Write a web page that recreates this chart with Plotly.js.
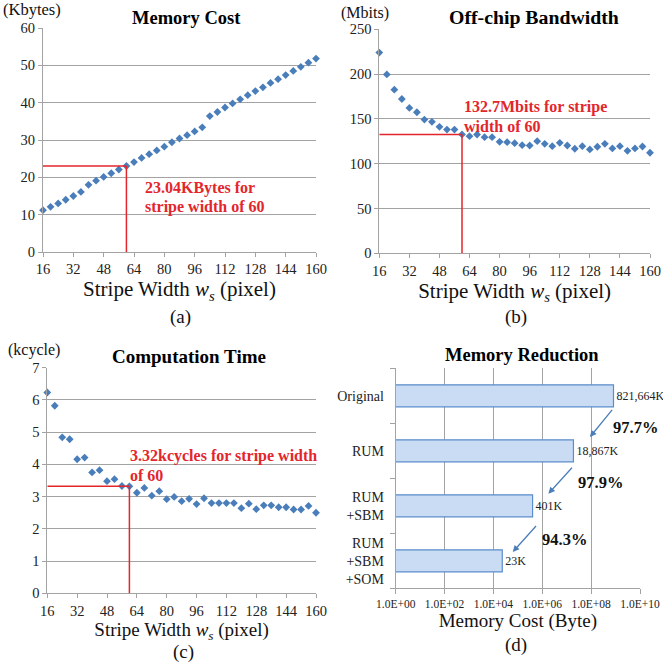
<!DOCTYPE html>
<html>
<head>
<meta charset="utf-8">
<script src="https://cdn.plot.ly/plotly-3.0.1.min.js"></script>
<style>
  html, body { margin: 0; padding: 0; background: #ffffff; }
  #chart { width: 663px; height: 666px; }
</style>
</head>
<body>
<div id="chart"></div>
<script>
// ---------------- data ----------------
const stripeWidths = [16,20,24,28,32,36,40,44,48,52,56,60,64,68,72,76,80,84,88,92,96,100,104,108,112,116,120,124,128,132,136,140,144,148,152,156,160];
const memoryCostKB = [11.2,12.1,13.0,14.0,15.0,16.1,18.0,19.1,20.1,21.1,22.1,23.04,24.1,25.2,26.2,27.2,28.2,29.4,30.4,31.3,32.3,33.4,36.4,37.5,38.7,39.8,40.9,42.0,43.1,44.1,45.3,46.3,47.4,48.5,49.6,50.7,51.8];
const bandwidthMbits = [224,199.6,182.6,172.2,162.2,157.4,149.2,146.7,141.1,138.1,138.1,132.7,130.7,132.6,129.6,129.6,124.4,124,122.9,120.7,120.3,125.1,122.2,119.6,123.3,120.3,116.7,119.6,115.9,118.9,122.2,117,119.6,114.4,117,119.2,112.2];
const computeKcycles = [6.23,5.82,4.84,4.78,4.16,4.21,3.75,3.82,3.48,3.54,3.33,3.32,3.12,3.27,3.03,3.17,2.92,2.99,2.86,2.93,2.77,2.95,2.80,2.80,2.80,2.80,2.64,2.78,2.61,2.73,2.73,2.67,2.67,2.60,2.60,2.71,2.50];
const xTickVals = [16,32,48,64,80,96,112,128,144,160];

const selectedWidth = 60;
const selectedValues = [23.04, 132.7, 3.32];

const methods = ['Original','RUM','RUM<br>+SBM','RUM<br>+SBM<br>+SOM'];
const methodBytes = [821664000, 18867000, 401000, 23000];
const methodLabels = ['821,664K','18,867K','401K','23K'];
const reductionLabels = ['97.7%','97.9%','94.3%'];
const logTickVals = [1,1e2,1e4,1e6,1e8,1e10];
const logTickText = ['1.0E+00','1.0E+02','1.0E+04','1.0E+06','1.0E+08','1.0E+10'];

// ---------------- helpers ----------------
const W = 663, H = 666;
const px = v => v / W;
const py = v => 1 - v / H;
const SERIF = 'Liberation Serif, Times New Roman, serif';
const BLUE = '#4a7ebb';
const RED = '#e3262c';
const GRID = '#a3a3a3';

function scatterTrace(y, xa, ya) {
  return {
    type: 'scatter', mode: 'markers', x: stripeWidths, y: y,
    xaxis: xa, yaxis: ya, cliponaxis: false, showlegend: false,
    marker: { symbol: 'diamond', size: 6, color: BLUE }
  };
}

const data = [
  scatterTrace(memoryCostKB, 'x', 'y'),
  scatterTrace(bandwidthMbits, 'x2', 'y2'),
  scatterTrace(computeKcycles, 'x3', 'y3'),
  {
    type: 'bar', orientation: 'h', x: methodBytes, y: methods,
    xaxis: 'x4', yaxis: 'y4', width: 0.4, showlegend: false,
    marker: { color: '#c9dcf3', line: { color: '#5b8ccc', width: 1.2 } },
    text: methodLabels, textposition: 'outside', cliponaxis: false,
    constraintext: 'none',
    textfont: { family: SERIF, size: 12, color: '#222' }
  }
];

function linX(domain, title, tsize) {
  return {
    domain: domain, range: [16, 160], tickvals: xTickVals,
    showgrid: false, zeroline: false, showline: true, linecolor: GRID, linewidth: 1,
    ticks: 'outside', ticklen: 4, tickcolor: GRID,
    tickfont: { family: SERIF, size: 14.5, color: '#222' },
    title: { text: title, font: { family: SERIF, size: tsize, color: '#111' }, standoff: 4 }
  };
}
function linY(domain, range, dtick, anchor) {
  return {
    domain: domain, range: range, dtick: dtick, anchor: anchor,
    showgrid: true, gridcolor: GRID, gridwidth: 1, zeroline: false,
    showline: true, linecolor: GRID, linewidth: 1,
    ticks: 'outside', ticklen: 4, tickcolor: GRID,
    tickfont: { family: SERIF, size: 14.5, color: '#222' }
  };
}

const stripeTitle = 'Stripe Width <i>w<sub>s</sub></i> (pixel)';

const layout = {
  width: W, height: H,
  margin: { l: 0, r: 0, t: 0, b: 0 },
  paper_bgcolor: '#ffffff', plot_bgcolor: '#ffffff',
  showlegend: false,
  font: { family: SERIF, color: '#111' },
  xaxis: Object.assign(linX([px(43), px(316)], stripeTitle, 21), { anchor: 'y' }),
  yaxis: linY([py(252), py(28)], [0, 60], 10, 'x'),
  xaxis2: Object.assign(linX([px(379.3), px(650)], stripeTitle, 21), { anchor: 'y2' }),
  yaxis2: linY([py(253.3), py(29.3)], [0, 250], 50, 'x2'),
  xaxis3: Object.assign(linX([px(47.3), px(316)], stripeTitle, 19), { anchor: 'y3' }),
  yaxis3: linY([py(593.3), py(367.7)], [0, 7], 1, 'x3'),
  xaxis4: {
    domain: [px(395.7), px(640)], anchor: 'y4', type: 'log', range: [0, 10],
    tickvals: logTickVals, ticktext: logTickText,
    showgrid: true, gridcolor: GRID, zeroline: false,
    showline: true, linecolor: GRID, ticks: 'outside', ticklen: 5, tickcolor: GRID,
    tickfont: { family: SERIF, size: 11.5, color: '#222' },
    title: { text: 'Memory Cost (Byte)', font: { family: SERIF, size: 19, color: '#111' }, standoff: 4 }
  },
  yaxis4: {
    domain: [py(588.3), py(368.3)], anchor: 'x4', type: 'category',
    categoryorder: 'array', categoryarray: methods.slice().reverse(),
    range: [-0.5, 3.5], tickson: 'boundaries',
    showgrid: false, zeroline: false, showline: true, linecolor: GRID,
    ticks: 'outside', ticklen: 5, tickcolor: GRID, ticklabelstandoff: 8,
    tickfont: { family: SERIF, size: 14, color: '#222' }
  },
  shapes: [],
  annotations: []
};

// red highlight lines for stripe width 60
const axPairs = [['x','y'],['x2','y2'],['x3','y3']];
axPairs.forEach(([xa, ya], i) => {
  layout.shapes.push({ type: 'line', xref: xa, yref: ya, x0: stripeWidths[0], x1: selectedWidth,
    y0: selectedValues[i], y1: selectedValues[i], line: { color: RED, width: 1.5 } });
  layout.shapes.push({ type: 'line', xref: xa, yref: ya, x0: selectedWidth, x1: selectedWidth,
    y0: 0, y1: selectedValues[i], line: { color: RED, width: 1.5 } });
});

function txt(text, x, y, opts) {
  return Object.assign({ text: text, xref: 'paper', yref: 'paper', x: px(x), y: py(y),
    xanchor: 'left', yanchor: 'middle', showarrow: false,
    font: { family: SERIF, size: 16, color: '#111' } }, opts || {});
}
const A = layout.annotations;
// unit labels
A.push(txt('(Kbytes)', 1, 10, { font: { family: SERIF, size: 16.5, color: '#111' } }));
A.push(txt('(Mbits)', 339, 13));
A.push(txt('(kcycle)', 6, 350));
// titles
const titleFont = { family: SERIF, size: 18.5, color: '#000' };
A.push(txt('<b>Memory Cost</b>', 186, 18, { xanchor: 'center', font: titleFont }));
A.push(txt('<b>Off-chip Bandwidth</b>', 534, 17, { xanchor: 'center', font: { family: SERIF, size: 19.8, color: '#000' } }));
A.push(txt('<b>Computation Time</b>', 189, 356, { xanchor: 'center', font: { family: SERIF, size: 19, color: '#000' } }));
A.push(txt('<b>Memory Reduction</b>', 521.5, 355, { xanchor: 'center', font: titleFont }));
// panel labels
const panelFont = { family: SERIF, size: 19, color: '#111' };
A.push(txt('(a)', 181, 317, { xanchor: 'center', font: panelFont }));
A.push(txt('(b)', 516, 317, { xanchor: 'center', font: panelFont }));
A.push(txt('(c)', 183, 652, { xanchor: 'center', font: panelFont }));
A.push(txt('(d)', 516, 645, { xanchor: 'center', font: panelFont }));
// red notes
const redFont = { family: SERIF, size: 16, color: RED };
A.push(txt('<b>23.04KBytes for</b>', 143, 188, { font: redFont }));
A.push(txt('<b>stripe width of 60</b>', 143, 207, { font: redFont }));
A.push(txt('<b>132.7Mbits for stripe</b>', 461.5, 107.3, { font: redFont }));
A.push(txt('<b>width of 60</b>', 461.5, 126, { font: redFont }));
A.push(txt('<b>3.32kcycles for stripe width</b>', 127.5, 456.3, { font: redFont }));
A.push(txt('<b>of 60</b>', 127.5, 475, { font: redFont }));

// arrows and reduction percentages in panel (d)  (x in log10 units, y in category index)
const arrowSpecs = [
  { tail: [8.91, 2.77], head: [7.95, 2.25] },
  { tail: [7.27, 1.72], head: [6.25, 1.22] },
  { tail: [5.80, 0.66], head: [4.79, 0.16] }
];
const pctPos = [[9.82, 2.43], [8.39, 1.43], [6.90, 0.39]];
arrowSpecs.forEach((s, i) => {
  A.push({ xref: 'x4', yref: 'y4', axref: 'x4', ayref: 'y4',
    x: s.head[0], y: s.head[1], ax: s.tail[0], ay: s.tail[1], text: '',
    showarrow: true, arrowhead: 2, arrowsize: 1, arrowwidth: 1.3, arrowcolor: BLUE });
  A.push({ xref: 'x4', yref: 'y4', x: pctPos[i][0], y: pctPos[i][1], text: '<b>' + reductionLabels[i] + '</b>',
    showarrow: false, xanchor: 'center', yanchor: 'middle',
    font: { family: SERIF, size: 16.5, color: '#111' } });
});

Plotly.newPlot('chart', data, layout, { staticPlot: true, displayModeBar: false });
</script>
</body>
</html>
